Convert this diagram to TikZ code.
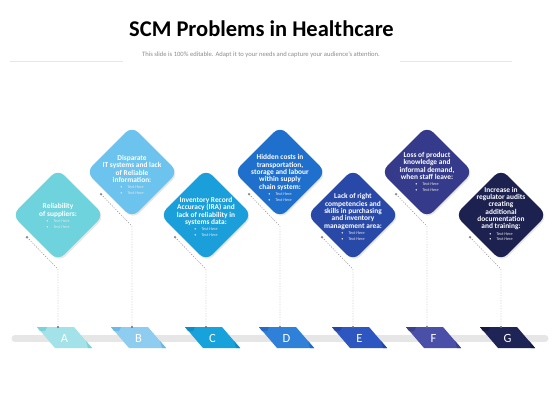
\documentclass[tikz,border=0pt]{standalone}
\usepackage{fontspec}
\setmainfont{Carlito}
\usetikzlibrary{shapes.geometric,calc,shadows}
\definecolor{cA}{HTML}{6ED3DD}\definecolor{rA}{HTML}{A3E2E8}\definecolor{fA}{HTML}{7CD2DA}
\definecolor{cB}{HTML}{6CC3EE}\definecolor{rB}{HTML}{8FCDF0}\definecolor{fB}{HTML}{6BB9E6}
\definecolor{cC}{HTML}{1A9FDA}\definecolor{rC}{HTML}{17A2DC}\definecolor{fC}{HTML}{0F8CC4}
\definecolor{cD}{HTML}{1F6FCC}\definecolor{rD}{HTML}{2F80D8}\definecolor{fD}{HTML}{236BC4}
\definecolor{cE}{HTML}{2849A8}\definecolor{rE}{HTML}{2E56C0}\definecolor{fE}{HTML}{2446A6}
\definecolor{cF}{HTML}{353B8A}\definecolor{rF}{HTML}{4A4FA8}\definecolor{fF}{HTML}{3A3F8E}
\definecolor{cG}{HTML}{1C2150}\definecolor{rG}{HTML}{1E2556}\definecolor{fG}{HTML}{151A42}
\definecolor{barc}{HTML}{E6E6E6}
\definecolor{subc}{HTML}{8C8C8C}
\definecolor{connc}{HTML}{8A8A8A}
\tikzset{
  dia/.style={shape=diamond,minimum width=92pt,minimum height=92pt,inner sep=0pt,
     rounded corners=9pt,draw=none,drop shadow={opacity=0.18,shadow xshift=1.2pt,shadow yshift=-1.5pt}},
  dtxt/.style={align=center,text=white,font=\bfseries\fontsize{7.4}{7.3}\selectfont,inner sep=0pt},
  conn/.style={connc,line width=0.45pt,dash pattern=on 1.2pt off 1.4pt},
  lettr/.style={text=white,font=\fontsize{12.5}{12.5}\selectfont,inner sep=0pt},
}
\newcommand{\bulitems}{\\[-0.8pt]{\mdseries\fontsize{4.3}{5.6}\selectfont\textcolor{white!80!gray}{•\hspace{5pt}\textit{Text Here}}}\\[-1.6pt]{\mdseries\fontsize{4.3}{5.6}\selectfont\textcolor{white!80!gray}{•\hspace{5pt}\textit{Text Here}}}}
\newcommand{\probitem}[9]{%
  \node[dia,fill=#4] (d#1) at (#2,#3) {};
  \node[dtxt] (t#1) at ($(d#1.center)+(0,#9)$) {#8\bulitems};
  \coordinate (p#1) at ($(d#1.west)!0.33!(d#1.south)+(0,7)$);
  \coordinate (k#1) at ($(d#1.south)+(0,8)$);
  \coordinate (r#1) at (#2,327);
  \fill[r#1] (#2-21,327) -- (#2+16,327) -- (#2+34,348) -- (#2-3,348) -- cycle;
  \fill[f#1] (#2-21,327) -- (#2-11,327) -- (#2-13,331) -- (#2-18,331) -- cycle;
  \fill[f#1] (#2+28,341) -- (#2+32,345.5) -- (#2+34,348) -- (#2+30,348) -- cycle;
  \node[lettr] (l#1) at (#2+6.5,338) {#7};
  \draw[conn] (p#1) -- (k#1) -- (r#1);
  \fill[connc] (p#1) circle (1.3pt);
  \fill[connc!80!black] (r#1) circle (1.2pt);
}
\begin{document}
\begin{tikzpicture}[x=1pt,y=-1pt]
\useasboundingbox (0,0) rectangle (560,420);
\fill[white] (0,0) rectangle (560,420);
\node[font=\bfseries\fontsize{22.5}{25}\selectfont] (title) at (261.5,29) {SCM Problems in Healthcare};
\node[font=\fontsize{6.6}{7.5}\selectfont,text=subc] (sub) at (261,55) {This slide is 100\% editable. Adapt it to your needs and capture your audience's attention.};
\draw[barc,line width=0.6pt] (10,61) -- (123,61);
\draw[barc,line width=0.6pt] (400,61) -- (512,61);
\draw[barc,line width=7pt,line cap=round] (15,338.5) -- (545,338.5);
\probitem{A}{58}{215}{cA}{rA}{fA}{A}{Reliability\\of suppliers:}{1}
\probitem{B}{132}{172}{cB}{rB}{fB}{B}{Disparate\\IT systems and lack\\of Reliable\\information:}{3}
\probitem{C}{206}{215}{cC}{rC}{fC}{C}{Inventory Record\\Accuracy (IRA) and\\lack of reliability in\\systems data:}{2}
\probitem{D}{280}{172}{cD}{rD}{fD}{D}{Hidden costs in\\transportation,\\storage and labour\\within supply\\chain system:}{6}
\probitem{E}{353}{215}{cE}{rE}{fE}{E}{Lack of right\\competencies and\\skills in purchasing\\and inventory\\management area:}{2}
\probitem{F}{427}{172}{cF}{rF}{fF}{F}{Loss of product\\knowledge and\\informal demand,\\when staff leave:}{0}
\probitem{G}{501}{215}{cG}{rG}{fG}{G}{Increase in\\regulator audits\\creating\\additional\\documentation\\and training:}{-1}
\end{tikzpicture}
\end{document}
